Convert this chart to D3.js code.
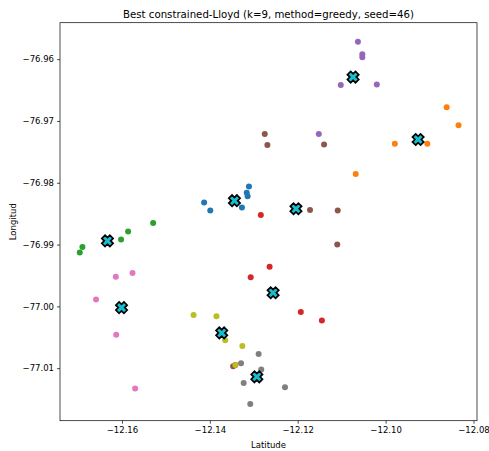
<!DOCTYPE html>
<html>
<head>
<meta charset="utf-8" />
<title>Best constrained-Lloyd</title>
<style>
    body { margin: 0; background: #fff; }
    text { font-family: "DejaVu Sans", sans-serif; }
</style>
</head>
<body>
<div id="container"></div>
<script src="https://cdn.jsdelivr.net/npm/d3@7"></script>
<script>
    // cluster points (Latitude, Longitud), one array per cluster label
    const cluster0 = [[-12.1311, -76.9806], [-12.1316, -76.9816], [-12.1314, -76.9822], [-12.1413, -76.9832], [-12.1399, -76.9845], [-12.1327, -76.9840]]
    const cluster1 = [[-12.0861, -76.9678], [-12.0834, -76.9707], [-12.0979, -76.9737], [-12.0905, -76.9737], [-12.1068, -76.9786]]
    const cluster2 = [[-12.1529, -76.9865], [-12.1586, -76.9879], [-12.1602, -76.9892], [-12.1690, -76.9904], [-12.1696, -76.9913]]
    const cluster3 = [[-12.1284, -76.9852], [-12.1264, -76.9936], [-12.1307, -76.9953], [-12.1193, -77.0009], [-12.1145, -77.0023], [-12.1342, -77.0095]]
    const cluster4 = [[-12.1063, -76.9572], [-12.1053, -76.9592], [-12.1053, -76.9597], [-12.1102, -76.9642], [-12.1020, -76.9641], [-12.1152, -76.9721]]
    const cluster5 = [[-12.1275, -76.9721], [-12.1269, -76.9739], [-12.1140, -76.9738], [-12.1172, -76.9844], [-12.1109, -76.9845], [-12.1110, -76.9900], [-12.1347, -77.0097]]
    const cluster6 = [[-12.1576, -76.9946], [-12.1614, -76.9952], [-12.1659, -76.9989], [-12.1613, -77.0046], [-12.1570, -77.0133]]
    const cluster7 = [[-12.1289, -77.0077], [-12.1329, -77.0092], [-12.1283, -77.0102], [-12.1323, -77.0124], [-12.1229, -77.0131], [-12.1308, -77.0158]]
    const cluster8 = [[-12.1437, -77.0014], [-12.1385, -77.0016], [-12.1365, -77.0055], [-12.1326, -77.0064], [-12.1342, -77.0095]]
    const clusters = [cluster0, cluster1, cluster2, cluster3, cluster4, cluster5, cluster6, cluster7, cluster8]

    const centroids = [[-12.1344, -76.9829], [-12.0926, -76.9730], [-12.1633, -76.9894], [-12.1256, -76.9978], [-12.1074, -76.9629],
                       [-12.1204, -76.9842], [-12.1601, -77.0002], [-12.1293, -77.0114], [-12.1373, -77.0043]]

    const xTicks = [-12.16, -12.14, -12.12, -12.10, -12.08]
    const yTicks = [-76.96, -76.97, -76.98, -76.99, -77.00, -77.01]

    const colors = d3.schemeCategory10

    const W = 489, H = 451
    const margin = { top: 22.7, right: 12, bottom: 30.3, left: 60 }
    const width = W - margin.left - margin.right
    const height = H - margin.top - margin.bottom

    const svg = d3.select('#container').append('svg').attr('width', W).attr('height', H)

    const x = d3.scaleLinear().domain([-12.1741, -12.0792]).range([0, width])
    const y = d3.scaleLinear().domain([-77.0185, -76.9541]).range([height, 0])

    const chart = svg.append('g').attr('transform', `translate(${margin.left}, ${margin.top})`)

    const fmt = d3.format('.2f')
    const axisX = d3.axisBottom(x).tickValues(xTicks).tickFormat(fmt).tickSize(3).tickPadding(3)
    const axisY = d3.axisLeft(y).tickValues(yTicks).tickFormat(fmt).tickSize(3).tickPadding(3)

    const gx = chart.append('g').attr('transform', `translate(0, ${height})`).call(axisX)
    const gy = chart.append('g').call(axisY)
    ;[gx, gy].forEach(g => {
        g.select('.domain').remove()
        g.selectAll('line').attr('stroke', '#000').attr('stroke-width', 0.7)
        g.selectAll('text').attr('font-family', 'DejaVu Sans').attr('font-size', 8.5).attr('fill', '#000')
    })

    chart.append('rect').attr('width', width).attr('height', height)
        .attr('fill', 'none').attr('stroke', '#000').attr('stroke-width', 0.7)

    // points, drawn cluster by cluster
    clusters.forEach((pts, k) => {
        chart.append('g').selectAll('circle').data(pts).join('circle')
            .attr('cx', d => x(d[0])).attr('cy', d => y(d[1])).attr('r', 3)
            .attr('fill', colors[k])
    })

    // filled X marker like matplotlib 'X'
    const filledX = {
        draw(context, size) {
            const L = Math.sqrt(size) / 2, w = L * 0.4
            const pts = [[w, L], [w, w], [L, w], [L, -w], [w, -w], [w, -L], [-w, -L], [-w, -w], [-L, -w], [-L, w], [-w, w], [-w, L]]
            const c = Math.SQRT1_2
            pts.forEach(([a, b], i) => {
                const px = (a - b) * c, py = (a + b) * c
                if (i === 0) context.moveTo(px, py)
                else context.lineTo(px, py)
            })
            context.closePath()
        }
    }
    chart.append('g').selectAll('path').data(centroids).join('path')
        .attr('transform', d => `translate(${x(d[0])}, ${y(d[1])})`)
        .attr('d', d3.symbol(filledX, 130))
        .attr('fill', '#17becf').attr('stroke', '#000').attr('stroke-width', 1.7).attr('stroke-linejoin', 'miter')

    svg.append('text').attr('x', margin.left + width / 2).attr('y', 17.6)
        .attr('text-anchor', 'middle').attr('font-size', 10.2).attr('fill', '#000')
        .text('Best constrained-Lloyd (k=9, method=greedy, seed=46)')

    svg.append('text').attr('x', margin.left + width / 2).attr('y', 447.5)
        .attr('text-anchor', 'middle').attr('font-size', 8.5).attr('fill', '#000')
        .text('Latitude')

    svg.append('text').attr('transform', `translate(16, ${margin.top + height / 2}) rotate(-90)`)
        .attr('text-anchor', 'middle').attr('font-size', 8.5).attr('fill', '#000')
        .text('Longitud')
</script>
</body>
</html>
